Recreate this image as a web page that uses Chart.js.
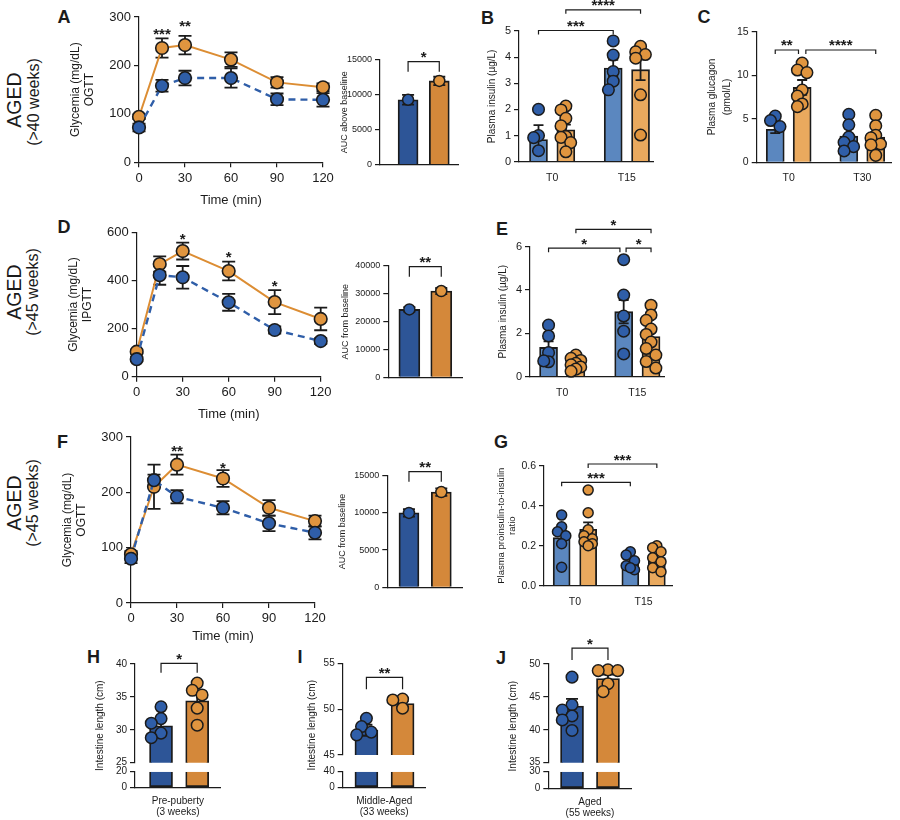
<!DOCTYPE html>
<html>
<head>
<meta charset="utf-8">
<script src="https://cdn.jsdelivr.net/npm/chart.js@4.4.1/dist/chart.umd.min.js"></script>
<style>
  html, body { margin: 0; padding: 0; background: #fff; }
  body { position: relative; width: 900px; height: 820px; overflow: hidden;
         font-family: 'Liberation Sans', Arial, Helvetica, sans-serif; color: #1b1b1b; }
  canvas { position: absolute; }
  .tag { position: absolute; font-weight: bold; font-size: 18px; line-height: 18px; transform: translate(-50%, -50%); }
  .side { position: absolute; white-space: nowrap; line-height: 1; transform: translate(-50%, -50%) rotate(-90deg); }
</style>
</head>
<body>
<div class="tag" style="left:64px;top:16.5px">A</div>
<div class="tag" style="left:487.5px;top:17.5px">B</div>
<div class="tag" style="left:704px;top:16.5px">C</div>
<div class="tag" style="left:64px;top:226.5px">D</div>
<div class="tag" style="left:502px;top:229px">E</div>
<div class="tag" style="left:62.5px;top:441.5px">F</div>
<div class="tag" style="left:501px;top:441.5px">G</div>
<div class="tag" style="left:93.5px;top:656.5px">H</div>
<div class="tag" style="left:300px;top:656.5px">I</div>
<div class="tag" style="left:501px;top:657.5px">J</div>

<div class="side" style="left:14.5px;top:100px;font-size:19.5px">AGED</div>
<div class="side" style="left:33.5px;top:102px;font-size:16px">(&gt;40 weeks)</div>
<div class="side" style="left:14.5px;top:292px;font-size:19.5px">AGED</div>
<div class="side" style="left:32.5px;top:292px;font-size:16px">(&gt;45 weeks)</div>
<div class="side" style="left:14.5px;top:503px;font-size:19.5px">AGED</div>
<div class="side" style="left:33px;top:503px;font-size:16px">(&gt;45 weeks)</div>

<script>
const FONT = "'Liberation Sans', Arial, Helvetica, sans-serif";
const INK = '#1b1b1b';
const BLUE = '#2f5ea8', ORANGE = '#e0953f', ORANGE_LINE = '#dc8d33';
const BLUE_LIGHT = '#5b87bf', ORANGE_LIGHT = '#e9a95e';
const BLUE_DARK = '#2d5597', ORANGE_DARK = '#d4883a';

const time = [0, 15, 30, 60, 90, 120];

// A - OGTT, >40 weeks
const aOrange = [94, 236, 242, 212, 165, 155];
const aOrangeSem = [5, 20, 19, 15, 11, 8];
const aBlue = [72, 158, 174, 174, 130, 129];
const aBlueSem = [8, 12, 15, 20, 12, 14];
const aStarX = [15, 30];
const aStarY = [270, 288];
const aStars = ['***', '**'];
const aAuc = [9300, 12000];
const aAucSem = [700, 600];

// B - plasma insulin
const bGroups = ['T0', 'T15'];
const bBlueMean = [0.85, 3.58];
const bBlueSem = [0.55, 0.32];
const bOrangeMean = [1.22, 3.52];
const bOrangeSem = [0.2, 0.4];
const bBluePts = [[2.0, 1.0, 0.92, 0.42], [4.62, 4.08, 3.45, 3.08, 2.75]];
const bOrangePts = [[2.13, 1.98, 1.66, 1.37, 0.96, 0.93, 0.73, 0.38], [4.41, 4.2, 4.1, 3.96, 2.56, 1.02]];

// C - plasma glucagon
const cGroups = ['T0', 'T30'];
const cBlueMean = [3.8, 3.0];
const cBlueSem = [0.45, 0.9];
const cOrangeMean = [8.6, 2.9];
const cOrangeSem = [0.85, 0.6];
const cBluePts = [[5.3, 4.8, 4.1], [5.5, 4.3, 2.9, 2.3, 1.8, 1.3]];
const cOrangePts = [[11.4, 10.6, 10.3, 8.3, 7.6, 6.7, 6.4], [5.4, 4.2, 3.1, 2.8, 2.1, 2.0, 0.8]];

// D - IPGTT, >45 weeks
const dOrange = [104, 468, 522, 439, 310, 240];
const dOrangeSem = [8, 32, 35, 39, 50, 47];
const dBlue = [73, 422, 413, 309, 194, 148];
const dBlueSem = [8, 40, 47, 35, 15, 12];
const dStarX = [30, 60, 90];
const dStarY = [584, 510, 389];
const dStars = ['*', '*', '*'];
const dAuc = [24400, 31000];
const dAucSem = [800, 1100];

// E - plasma insulin
const eGroups = ['T0', 'T15'];
const eBlueMean = [1.35, 3.0];
const eBlueSem = [0.28, 0.54];
const eOrangeMean = [0.58, 1.85];
const eOrangeSem = [0.1, 0.3];
const eBluePts = [[2.38, 1.88, 1.11, 0.69, 0.73], [5.4, 3.77, 2.8, 2.1, 1.05]];
const eOrangePts = [[1.0, 0.85, 0.75, 0.62, 0.55, 0.45, 0.35, 0.25], [3.3, 2.85, 2.6, 2.2, 1.95, 1.6, 1.3, 1.0, 0.7, 0.4]];

// F - OGTT, >45 weeks
const fOrange = [88, 210, 250, 225, 172, 148];
const fOrangeSem = [6, 40, 18, 15, 14, 10];
const fBlue = [80, 222, 192, 172, 144, 127];
const fBlueSem = [8, 10, 12, 12, 14, 12];
const fStarX = [30, 60];
const fStarY = [280, 249];
const fStars = ['**', '*'];
const fAuc = [10000, 12800];
const fAucSem = [500, 500];

// G - proinsulin-to-insulin ratio
const gGroups = ['T0', 'T15'];
const gBlueMean = [0.24, 0.115];
const gBlueSem = [0.035, 0.015];
const gOrangeMean = [0.282, 0.14];
const gOrangeSem = [0.035, 0.02];
const gBluePts = [[0.353, 0.295, 0.27, 0.25, 0.21, 0.092], [0.17, 0.153, 0.125, 0.1, 0.08, 0.09]];
const gOrangePts = [[0.478, 0.365, 0.28, 0.25, 0.235, 0.22, 0.21, 0.2], [0.2, 0.19, 0.17, 0.14, 0.12, 0.09, 0.07]];

// H, I, J - intestine length
const hMean = [30.6, 34.4];
const hSem = [1.0, 1.2];
const hBluePts = [33.5, 31.7, 31.0, 29.5, 28.8];
const hOrangePts = [37.1, 36.0, 35.3, 33.3, 30.7];
const iMean = [47.7, 50.6];
const iSem = [0.6, 0.3];
const iBluePts = [49.0, 48.1, 47.5, 47.2];
const iOrangePts = [51.1, 51.0, 50.1];
const jMean = [43.6, 47.8];
const jSem = [1.1, 0.6];
const jBluePts = [48.0, 43.8, 43.0, 42.1, 41.5, 39.9];
const jOrangePts = [49.1, 49.0, 49.0, 47.0, 45.8];

Chart.defaults.font.family = FONT;

// --- drawing helpers (error bars, significance brackets, stars) ---
function drawErr(chart, e) {
  const meta = chart.getDatasetMeta(e.ds);
  const ys = chart.scales[meta.yAxisID];
  const data = chart.data.datasets[e.ds].data;
  const ctx = chart.ctx;
  ctx.save();
  ctx.strokeStyle = INK;
  ctx.lineWidth = 1.8;
  meta.data.forEach((el, i) => {
    const s = e.sem[i];
    if (!s) return;
    const v = data[i].y;
    const yt = ys.getPixelForValue(v + s), yb = ys.getPixelForValue(v - s);
    const x = el.x, c = e.cap;
    ctx.beginPath();
    ctx.moveTo(x, yb); ctx.lineTo(x, yt);
    ctx.moveTo(x - c, yt); ctx.lineTo(x + c, yt);
    ctx.moveTo(x - c, yb); ctx.lineTo(x + c, yb);
    ctx.stroke();
  });
  ctx.restore();
}

const extras = {
  id: 'extras',
  beforeDatasetsDraw(chart, args, o) {
    (o.under || []).forEach(e => drawErr(chart, e));
  },
  afterDatasetDraw(chart, args, o) {
    (o.errors || []).forEach(e => { if (e.ds === args.index) drawErr(chart, e); });
  },
  afterDatasetsDraw(chart, args, o) {
    const ctx = chart.ctx;
    const xs = chart.scales.x;
    ctx.save();
    ctx.strokeStyle = INK;
    ctx.fillStyle = INK;
    ctx.lineWidth = 1.2;
    ctx.textAlign = 'center';
    ctx.textBaseline = 'alphabetic';
    ctx.font = 'bold 15px ' + FONT;
    (o.brackets || []).forEach(k => {
      const ys = chart.scales[k.axis || 'y'];
      const x1 = xs.getPixelForValue(k.x1), x2 = xs.getPixelForValue(k.x2);
      const y = ys.getPixelForValue(k.y);
      ctx.beginPath();
      ctx.moveTo(x1, y + k.drop); ctx.lineTo(x1, y); ctx.lineTo(x2, y); ctx.lineTo(x2, y + k.drop);
      ctx.stroke();
      ctx.fillText(k.text, (x1 + x2) / 2, y + 0.5);
    });
    (o.stars || []).forEach(s => {
      ctx.fillText(s.text, xs.getPixelForValue(s.x), chart.scales.y.getPixelForValue(s.y) + 7.8);
    });
    if (o.yTitle) {
      const a = chart.chartArea;
      ctx.font = o.yTitle.size + 'px ' + FONT;
      ctx.textBaseline = 'middle';
      ctx.translate(a.left - o.yTitle.dx, (a.top + a.bottom) / 2);
      ctx.rotate(-Math.PI / 2);
      ctx.fillText(o.yTitle.text, 0, 0);
    }
    ctx.restore();
  }
};
Chart.register(extras);

function addChart(area, yw, xh, pad, config) {
  const [l, t, r, b] = area;
  const [pt, pr, pb, pl] = pad;
  const cl = Math.floor(l - yw - pl), ct = Math.floor(t - pt);
  const w = Math.ceil(r + pr - cl), h = Math.ceil(b + xh + pb - ct);
  const c = document.createElement('canvas');
  c.width = w; c.height = h;
  Object.assign(c.style, {left: cl + 'px', top: ct + 'px', width: w + 'px', height: h + 'px'});
  document.body.appendChild(c);
  const o = config.options;
  o.layout = {padding: {left: l - yw - cl, top: t - ct, right: cl + w - r, bottom: ct + h - b - xh}};
  o.responsive = false;
  o.animation = false;
  o.devicePixelRatio = 1;
  o.events = [];
  o.plugins = Object.assign({legend: {display: false}, tooltip: {enabled: false}}, o.plugins);
  return new Chart(c, config);
}

const fixW = w => s => { s.width = w; };
const fixH = h => s => { s.height = h; };
const font = (size, extra) => Object.assign({size, family: FONT}, extra);

function yScale(min, max, step, size, yw, title, fmt) {
  return {
    type: 'linear', min, max,
    ticks: {stepSize: step, color: INK, font: font(size), padding: 3, autoSkip: false, callback: fmt || (v => String(v))},
    grid: {drawOnChartArea: false, tickLength: 5, color: INK, lineWidth: 1.2},
    border: {color: INK, width: 1.2},
    title: title ? {display: true, text: title.text, color: INK, font: font(title.size, {lineHeight: title.lh}), padding: 0} : {display: false},
    afterFit: fixW(yw)
  };
}

function swarm(vals, cx, pxX, pxY, r, maxOff) {
  const placed = [];
  return vals.map(v => {
    const py = v * pxY;
    let best = 0, bestD = -1;
    for (const k of [0, -1, 1, -2, 2, -3, 3]) {
      const dx = k * r * 0.85;
      if (Math.abs(dx) > maxOff) continue;
      const dmin = placed.reduce((m, p) => Math.min(m, Math.hypot(p.dx - dx, p.py - py)), Infinity);
      if (dmin >= r * 1.5) { best = dx; break; }
      if (dmin > bestD) { bestD = dmin; best = dx; }
    }
    placed.push({dx: best, py});
    return {x: cx + best / pxX, y: v};
  });
}

const dots = (data, color, r, extra) => Object.assign({
  type: 'scatter', data, pointRadius: r, pointBackgroundColor: color,
  pointBorderColor: INK, pointBorderWidth: 1.5, order: 0, clip: false
}, extra);

function lineChart(o) {
  const pts = ys => time.map((x, i) => ({x, y: ys[i]}));
  const style = {pointRadius: 6.3, pointBorderColor: INK, pointBorderWidth: 1.6, clip: false, tension: 0};
  return addChart(o.area, 70, o.xh, [o.padTop, 14, 2, 4], {
    type: 'line',
    data: {datasets: [
      Object.assign({data: pts(o.blue), borderColor: BLUE, borderWidth: 2.4, borderDash: [7, 5], pointBackgroundColor: BLUE}, style),
      Object.assign({data: pts(o.orange), borderColor: ORANGE_LINE, borderWidth: 2, pointBackgroundColor: ORANGE}, style)
    ]},
    options: {
      scales: {
        x: {
          type: 'linear', min: 0, max: 120,
          ticks: {stepSize: 30, color: INK, font: font(13), padding: 3},
          grid: {drawOnChartArea: false, tickLength: 5, color: INK, lineWidth: 1.2},
          border: {color: INK, width: 1.2},
          title: {display: true, text: 'Time (min)', color: INK, font: font(13), padding: 0},
          afterFit: fixH(o.xh)
        },
        y: yScale(0, o.yMax, o.yStep, 13, 70, {text: ['Glycemia (mg/dL)', o.test], size: 12, lh: 1.15})
      },
      plugins: {extras: {
        under: [{ds: 0, sem: o.blueSem, cap: 6.5}, {ds: 1, sem: o.orangeSem, cap: 6.5}],
        stars: o.starX.map((x, i) => ({x, y: o.starY[i], text: o.stars[i]}))
      }}
    }
  });
}

// plain linear x axis for bar panels (offset off so bars sit where their x says)
function xPlain(min, max, extra) {
  return Object.assign({
    type: 'linear', min, max, offset: false,
    ticks: {display: false}, grid: {display: false, offset: false},
    border: {color: INK, width: 1.2}
  }, extra);
}

function aucChart(o) {
  const data = o.auc.map((y, x) => ({x, y}));
  return addChart(o.area, o.yw, 0, [20, 6, 8, 4], {
    type: 'bar',
    data: {datasets: [
      {type: 'bar', data, backgroundColor: [BLUE_DARK, ORANGE_DARK], borderColor: INK, borderWidth: 1.8,
       barThickness: o.thick, grouped: false, order: 1},
      dots(data, [BLUE, ORANGE], 5.5)
    ]},
    options: {
      scales: {
        x: xPlain(o.xMin, o.xMax, {afterFit: fixH(0)}),
        y: yScale(0, o.yMax, o.yStep, 9, o.yw, {text: o.title, size: 9, lh: 1.2})
      },
      plugins: {extras: {
        errors: [{ds: 0, sem: o.sem, cap: 6}],
        brackets: [{x1: 0, x2: 1, y: o.bracketY, drop: 10, text: o.mark}]
      }}
    }
  });
}

function dotBar(o) {
  const [l, t, r, b] = o.area;
  const pxX = (r - l) / (o.xMax - o.xMin);
  const pxY = (b - t) / o.yMax;
  const xAt = (g, s) => g + (s ? o.d : -o.d);
  const pts = (arr, s) => arr.flatMap((vals, g) => swarm(vals, xAt(g, s), pxX, pxY, o.r, o.thick / 2 - 1));
  const bars = (means, s, color) => ({
    type: 'bar', data: means.map((y, g) => ({x: xAt(g, s), y})), backgroundColor: color,
    borderColor: INK, borderWidth: 1.8, barThickness: o.thick, grouped: false, order: 1
  });
  return addChart(o.area, o.yw, 20, o.pad, {
    type: 'bar',
    data: {datasets: [
      bars(o.blueMean, 0, BLUE_LIGHT),
      bars(o.orangeMean, 1, ORANGE_LIGHT),
      dots(pts(o.bluePts, 0), BLUE, o.r),
      dots(pts(o.orangePts, 1), ORANGE, o.r)
    ]},
    options: {
      scales: {
        x: xPlain(o.xMin, o.xMax, {
          afterBuildTicks: s => { s.ticks = o.groups.map((g, i) => ({value: i})); },
          ticks: {callback: v => o.groups[v], color: INK, font: font(10.5), padding: 2, autoSkip: false, maxRotation: 0},
          afterFit: fixH(20)
        }),
        y: yScale(0, o.yMax, o.yStep, o.tick, o.yw, o.title, o.fmt)
      },
      plugins: {extras: {
        errors: [{ds: 0, sem: o.blueSem, cap: 5}, {ds: 1, sem: o.orangeSem, cap: 5}],
        brackets: o.brackets.map(k => Object.assign({drop: 4}, k))
      }}
    }
  });
}

function gutChart(o) {
  const [l, t, r, b] = o.area;
  const pxX = (r - l) / (o.xMax - o.xMin);
  const pxY = o.upPx / (o.upMax - o.upMin);
  const barBase = {type: 'bar', backgroundColor: [BLUE_DARK, ORANGE_DARK], borderColor: INK, borderWidth: 1.8,
                   barThickness: 23, grouped: false, order: 1};
  const yw = 36;
  return addChart(o.area, yw, 31, [o.padTop, 6, 2, 4], {
    type: 'bar',
    data: {datasets: [
      Object.assign({}, barBase, {data: o.mean.map((y, x) => ({x, y})), yAxisID: 'yU'}),
      Object.assign({}, barBase, {data: o.mean.map((y, x) => ({x, y: Math.min(y, o.lowMax)})), yAxisID: 'yL', borderSkipped: 'end'}),
      dots(swarm(o.bluePts, 0, pxX, pxY, 5.8, 10), BLUE, 5.8, {yAxisID: 'yU'}),
      dots(swarm(o.orangePts, 1, pxX, pxY, 5.8, 10), ORANGE, 5.8, {yAxisID: 'yU'})
    ]},
    options: {
      scales: {
        x: xPlain(o.xMin, o.xMax, {
          title: {display: true, text: o.label, color: INK, font: font(10, {lineHeight: 1.17}), padding: 0},
          afterFit: fixH(31)
        }),
        yL: Object.assign(yScale(0, o.lowMax, o.lowMax, 10, yw), {stack: 'gut', stackWeight: o.lowPx}),
        yG: {stack: 'gut', stackWeight: o.gapPx, ticks: {display: false}, grid: {display: false},
             border: {display: false}, afterFit: fixW(yw)},
        yU: Object.assign(yScale(o.upMin, o.upMax, 5, 10, yw), {stack: 'gut', stackWeight: o.upPx})
      },
      plugins: {extras: {
        errors: [{ds: 0, sem: o.sem, cap: 6}],
        brackets: [{x1: 0, x2: 1, y: o.bracketY, drop: o.drop, text: o.mark, axis: 'yU'}],
        yTitle: {text: 'Intestine length (cm)', dx: o.titleDx, size: 10}
      }}
    }
  });
}

// --- panels ---
lineChart({area: [139, 17, 323, 162.3], yMax: 300, yStep: 100, test: 'OGTT', padTop: 17, xh: 46,
  blue: aBlue, blueSem: aBlueSem, orange: aOrange, orangeSem: aOrangeSem, starX: aStarX, starY: aStarY, stars: aStars});
aucChart({area: [380, 60, 459, 165], yw: 40.5, xMin: -0.9, xMax: 1.6, thick: 20, yMax: 15000, yStep: 5000,
  title: 'AUC above baseline', auc: aAuc, sem: aAucSem, bracketY: 14757, mark: '*'});

dotBar({area: [519, 31, 657, 161.7], yw: 33, pad: [31, 4, 4, 4], xMin: -0.444, xMax: 1.359, d: 0.183, thick: 18, r: 5.8,
  yMax: 5, yStep: 1, tick: 11, title: {text: 'Plasma insulin (µg/L)', size: 10, lh: 1.2}, groups: bGroups,
  blueMean: bBlueMean, blueSem: bBlueSem, orangeMean: bOrangeMean, orangeSem: bOrangeSem,
  bluePts: bBluePts, orangePts: bOrangePts,
  brackets: [{x1: -0.183, x2: 0.817, y: 5.02, text: '***'}, {x1: 0.183, x2: 1.183, y: 5.81, text: '****'}]});

dotBar({area: [756.7, 31.7, 897, 162.3], yw: 51.7, pad: [31, 2, 4, 4], xMin: -0.435, xMax: 1.40, d: 0.183, thick: 18, r: 5.8,
  yMax: 15, yStep: 5, tick: 10.5, title: {text: ['Plasma glucagon', '(pmol/L)'], size: 10, lh: 1.45}, groups: cGroups,
  blueMean: cBlueMean, blueSem: cBlueSem, orangeMean: cOrangeMean, orangeSem: cOrangeSem,
  bluePts: cBluePts, orangePts: cOrangePts,
  brackets: [{x1: -0.183, x2: 0.133, y: 12.9, text: '**'}, {x1: 0.233, x2: 1.183, y: 12.9, text: '****'}]});

lineChart({area: [136.7, 232.3, 320.7, 376.7], yMax: 600, yStep: 200, test: 'IPGTT', padTop: 14, xh: 46,
  blue: dBlue, blueSem: dBlueSem, orange: dOrange, orangeSem: dOrangeSem, starX: dStarX, starY: dStarY, stars: dStars});
aucChart({area: [388.3, 266, 463, 377.3], yw: 47.8, xMin: -0.66, xMax: 1.65, thick: 21, yMax: 40000, yStep: 10000,
  title: 'AUC from baseline', auc: dAuc, sem: dAucSem, bracketY: 39748, mark: '**'});

dotBar({area: [530, 246.7, 668, 376.7], yw: 33, pad: [32, 4, 4, 4], xMin: -0.429, xMax: 1.364, d: 0.182, thick: 18, r: 5.8,
  yMax: 6, yStep: 2, tick: 11, title: {text: 'Plasma insulin (µg/L)', size: 10, lh: 1.2}, groups: eGroups,
  blueMean: eBlueMean, blueSem: eBlueSem, orangeMean: eOrangeMean, orangeSem: eOrangeSem,
  bluePts: eBluePts, orangePts: eOrangePts,
  brackets: [{x1: -0.182, x2: 0.768, y: 5.93, text: '*'}, {x1: 0.85, x2: 1.182, y: 5.93, text: '*'},
             {x1: 0.182, x2: 1.182, y: 6.8, text: '*'}]});

lineChart({area: [131, 437, 315, 603], yMax: 300, yStep: 100, test: 'OGTT', padTop: 14, xh: 41,
  blue: fBlue, blueSem: fBlueSem, orange: fOrange, orangeSem: fOrangeSem, starX: fStarX, starY: fStarY, stars: fStars});
aucChart({area: [387.3, 475.7, 463, 587.3], yw: 49.8, xMin: -0.67, xMax: 1.64, thick: 20, yMax: 15000, yStep: 5000,
  title: 'AUC from baseline', auc: fAuc, sem: fAucSem, bracketY: 15538, mark: '**'});

dotBar({area: [544, 465.7, 675, 585.7], yw: 48, pad: [16, 4, 4, 4], xMin: -0.45, xMax: 1.421, d: 0.193, thick: 17, r: 5,
  yMax: 0.6, yStep: 0.2, tick: 10.5, fmt: v => v.toFixed(1),
  title: {text: ['Plasma proinsulin-to-insulin', 'ratio'], size: 9.5, lh: 1.15}, groups: gGroups,
  blueMean: gBlueMean, blueSem: gBlueSem, orangeMean: gOrangeMean, orangeSem: gOrangeSem,
  bluePts: gBluePts, orangePts: gOrangePts,
  brackets: [{x1: -0.193, x2: 0.807, y: 0.517, text: '***'}, {x1: 0.193, x2: 1.193, y: 0.6085, text: '***'}]});

gutChart({area: [135, 664, 221.7, 787.3], xMin: -0.72, xMax: 1.65, padTop: 20,
  upMin: 25, upMax: 40, upPx: 98.7, gapPx: 9, lowMax: 20, lowPx: 15.6,
  mean: hMean, sem: hSem, bluePts: hBluePts, orangePts: hOrangePts,
  bracketY: 40.1, drop: 9.4, mark: '*', titleDx: 35, label: ['Pre-puberty', '(3 weeks)']});
gutChart({area: [342.7, 663.3, 426.7, 787.3], xMin: -0.656, xMax: 1.64, padTop: 10,
  upMin: 45, upMax: 55, upPx: 91.7, gapPx: 16.7, lowMax: 40, lowPx: 15.6,
  mean: iMean, sem: iSem, bluePts: iBluePts, orangePts: iOrangePts,
  bracketY: 53.47, drop: 12, mark: '**', titleDx: 30, label: ['Middle-Aged', '(33 weeks)']});
gutChart({area: [548.3, 664, 632.7, 788.3], xMin: -0.66, xMax: 1.66, padTop: 26,
  upMin: 35, upMax: 50, upPx: 98.7, gapPx: 9, lowMax: 30, lowPx: 16.6,
  mean: jMean, sem: jSem, bluePts: jBluePts, orangePts: jOrangePts,
  bracketY: 52.4, drop: 11.7, mark: '*', titleDx: 35, label: ['Aged', '(55 weeks)']});
</script>
</body>
</html>
